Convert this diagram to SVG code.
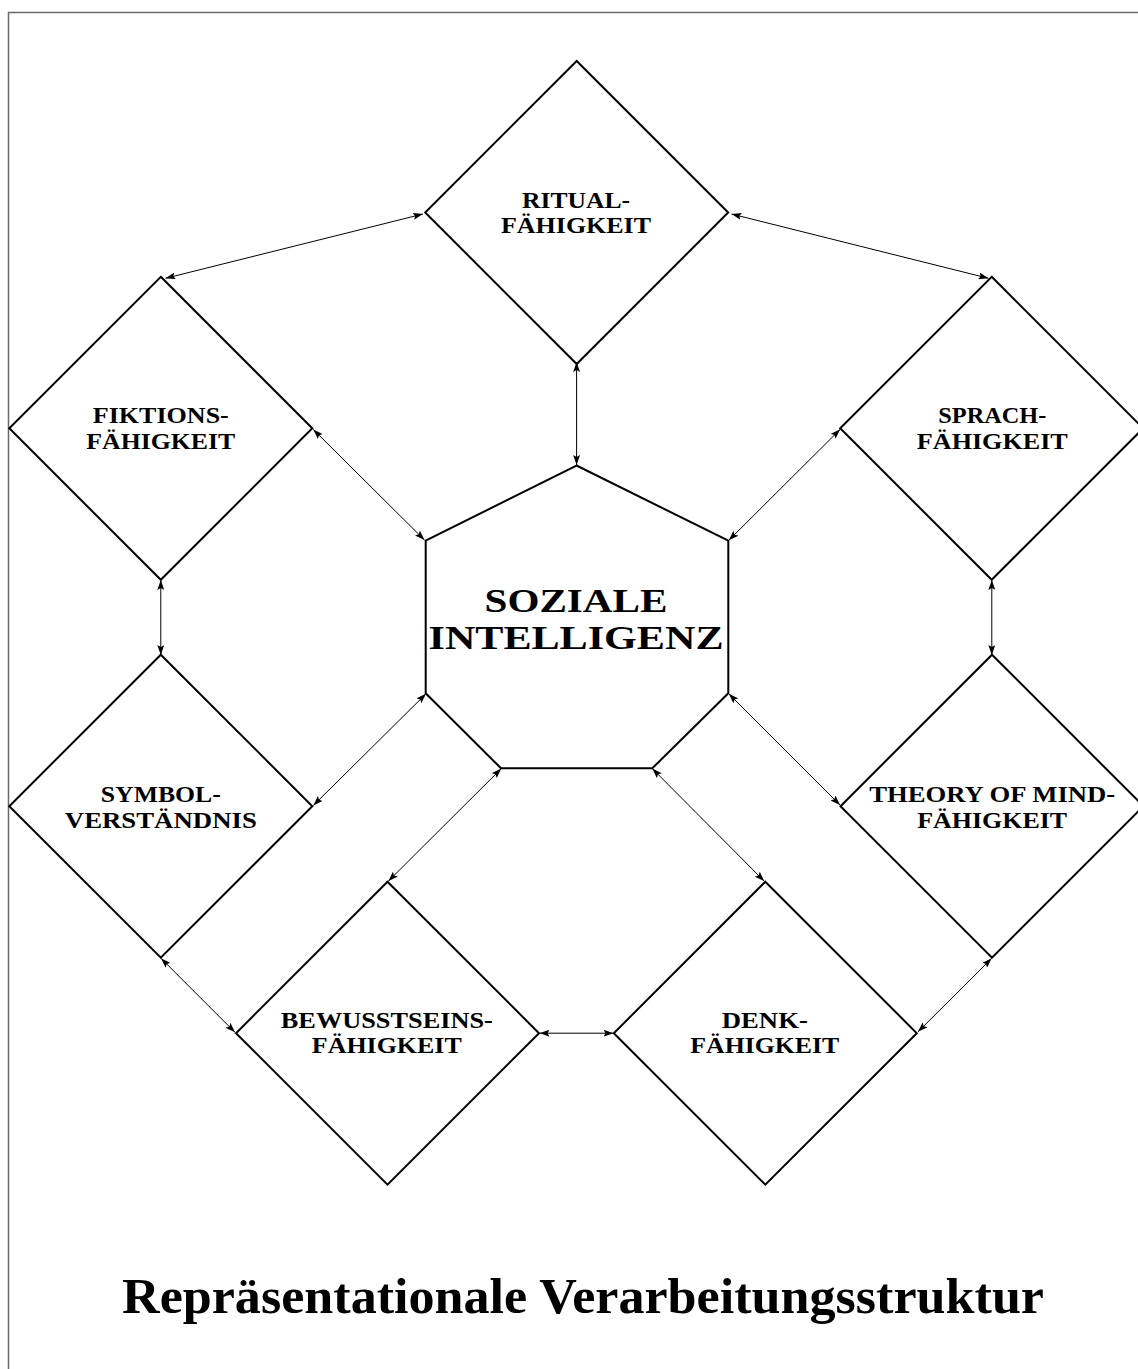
<svg xmlns="http://www.w3.org/2000/svg" width="1138" height="1369" viewBox="0 0 1138 1369">
<style>
.frame{fill:none;stroke:#6a6a6a;stroke-width:1.5}
.node{fill:none;stroke:#000;stroke-width:2;stroke-linejoin:miter}
.lbl{font-family:"Liberation Serif","Times New Roman",serif;font-weight:bold;font-size:23px;fill:#000;text-anchor:middle}
.big{font-family:"Liberation Serif","Times New Roman",serif;font-weight:bold;font-size:33px;fill:#000;text-anchor:middle}
.title{font-family:"Liberation Serif","Times New Roman",serif;font-weight:bold;font-size:50px;fill:#000;text-anchor:middle}
.conn line{stroke:#000;stroke-width:1;marker-start:url(#ah);marker-end:url(#ah)}
</style>
<defs>
<marker id="ah" viewBox="0 0 10 7" refX="10" refY="3.5" markerWidth="10" markerHeight="7" markerUnits="userSpaceOnUse" orient="auto-start-reverse">
<path d="M0,0 L10,3.5 L0,7 L2,3.5 z" fill="#000"/>
</marker>
</defs>
<rect width="1138" height="1369" fill="#fff"/>
<path class="frame" d="M8.5,1369 V12.5 H1138"/>

<g id="soziale-intelligenz">
<polygon class="node" points="576.5,465.5 728.3,540.7 728.3,693.3 652.3,768.3 501,768.3 425.7,693.3 425.7,540.7"/>
<text class="big" x="576" y="611.5" textLength="183" lengthAdjust="spacingAndGlyphs">SOZIALE</text>
<text class="big" x="576" y="648.5" textLength="295" lengthAdjust="spacingAndGlyphs">INTELLIGENZ</text>
</g>

<g id="ritual">
<polygon class="node" points="576.7,61 728.2,212.5 576.7,364 425.2,212.5"/>
<text class="lbl"><tspan x="576" y="207.5" textLength="108" lengthAdjust="spacingAndGlyphs">RITUAL-</tspan><tspan x="576" y="233" textLength="150" lengthAdjust="spacingAndGlyphs">FÄHIGKEIT</tspan></text>
</g>

<g id="fiktion">
<polygon class="node" points="160.8,276.8 312.3,428.3 160.8,579.8 9.3,428.3"/>
<text class="lbl"><tspan x="160.8" y="423.3" textLength="136" lengthAdjust="spacingAndGlyphs">FIKTIONS-</tspan><tspan x="160.8" y="449.3" textLength="149" lengthAdjust="spacingAndGlyphs">FÄHIGKEIT</tspan></text>
</g>

<g id="sprach">
<polygon class="node" points="991.7,276.8 1143.2,428.3 991.7,579.8 840.2,428.3"/>
<text class="lbl"><tspan x="992.3" y="423.3" textLength="108" lengthAdjust="spacingAndGlyphs">SPRACH-</tspan><tspan x="992.3" y="449.3" textLength="151" lengthAdjust="spacingAndGlyphs">FÄHIGKEIT</tspan></text>
</g>

<g id="symbol">
<polygon class="node" points="160.8,654.7 312.3,806.2 160.8,957.7 9.3,806.2"/>
<text class="lbl"><tspan x="160.8" y="801.7" textLength="120" lengthAdjust="spacingAndGlyphs">SYMBOL-</tspan><tspan x="160.8" y="828.3" textLength="192" lengthAdjust="spacingAndGlyphs">VERSTÄNDNIS</tspan></text>
</g>

<g id="theory-of-mind">
<polygon class="node" points="992,654.7 1143.5,806.2 992,957.7 840.5,806.2"/>
<text class="lbl"><tspan x="992.2" y="801.7" textLength="246" lengthAdjust="spacingAndGlyphs">THEORY OF MIND-</tspan><tspan x="992.2" y="828.3" textLength="150" lengthAdjust="spacingAndGlyphs">FÄHIGKEIT</tspan></text>
</g>

<g id="bewusstsein">
<polygon class="node" points="387.5,881.7 539,1033.2 387.5,1184.7 236,1033.2"/>
<text class="lbl"><tspan x="386.8" y="1027.7" textLength="212" lengthAdjust="spacingAndGlyphs">BEWUSSTSEINS-</tspan><tspan x="386.8" y="1053.3" textLength="150" lengthAdjust="spacingAndGlyphs">FÄHIGKEIT</tspan></text>
</g>

<g id="denk">
<polygon class="node" points="765.3,881.7 916.8,1033.2 765.3,1184.7 613.8,1033.2"/>
<text class="lbl"><tspan x="764.8" y="1027.7" textLength="86" lengthAdjust="spacingAndGlyphs">DENK-</tspan><tspan x="764.8" y="1053.3" textLength="149" lengthAdjust="spacingAndGlyphs">FÄHIGKEIT</tspan></text>
</g>

<g id="connectors" class="conn">
<line x1="423" y1="214" x2="165.5" y2="278.3"/>
<line x1="731.5" y1="214" x2="988.5" y2="278.3"/>
<line x1="576.6" y1="362" x2="576.6" y2="465"/>
<line x1="313.3" y1="429.5" x2="424.5" y2="540"/>
<line x1="840.2" y1="429.3" x2="728.8" y2="540.3"/>
<line x1="160.8" y1="580" x2="160.8" y2="655"/>
<line x1="991.8" y1="580" x2="991.8" y2="655"/>
<line x1="313.3" y1="805.5" x2="426" y2="693.8"/>
<line x1="840" y1="805" x2="728.8" y2="693.8"/>
<line x1="501.3" y1="768.6" x2="388.3" y2="881.2"/>
<line x1="652.3" y1="768.6" x2="764.3" y2="881.2"/>
<line x1="161" y1="958.3" x2="235" y2="1032.3"/>
<line x1="539.5" y1="1033.2" x2="613.5" y2="1033.2"/>
<line x1="991.7" y1="958.3" x2="918" y2="1031.8"/>
</g>

<text class="title" x="583" y="1312.5" textLength="922" lengthAdjust="spacingAndGlyphs">Repräsentationale Verarbeitungsstruktur</text>
</svg>
